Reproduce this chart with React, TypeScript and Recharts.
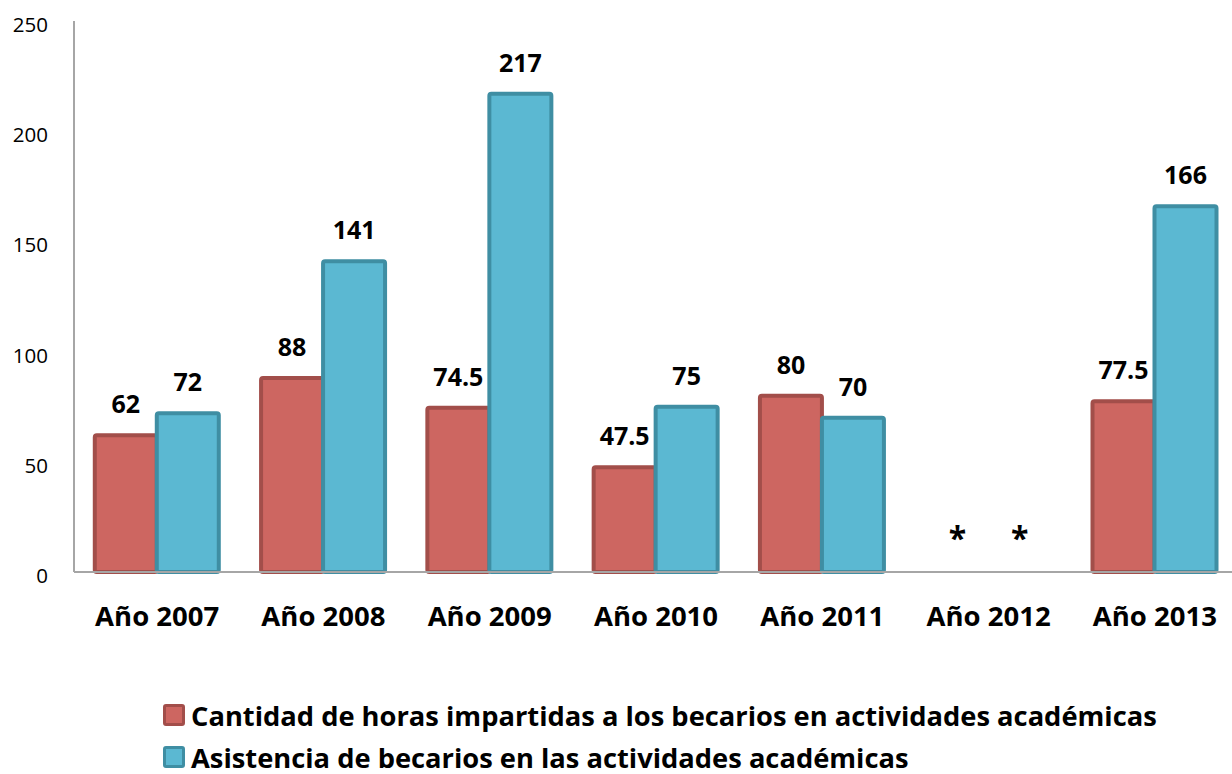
import React from 'react';
import { BarChart, Bar, XAxis, YAxis, LabelList, Legend } from 'recharts';

const categories = ['Año 2007', 'Año 2008', 'Año 2009', 'Año 2010', 'Año 2011', 'Año 2012', 'Año 2013'];
const horas = [62, 88, 74.5, 47.5, 80, 0, 77.5];
const asistencia = [72, 141, 217, 75, 70, 0, 166];
const horasLabels = ['62', '88', '74.5', '47.5', '80', '*', '77.5'];
const asistenciaLabels = ['72', '141', '217', '75', '70', '*', '166'];
const yTicks = [0, 50, 100, 150, 200, 250];
const seriesNames = [
  'Cantidad de horas impartidas a los becarios en actividades académicas',
  'Asistencia de becarios en las actividades académicas',
];

const data = categories.map((c, i) => ({
  name: c,
  horas: horas[i],
  asistencia: asistencia[i],
  horasLabel: horasLabels[i],
  asistenciaLabel: asistenciaLabels[i],
}));

const FONT = '"Open Sans", sans-serif';

const RED_FILL = '#CD6661';
const RED_STROKE = '#A24E4A';
const BLUE_FILL = '#5BB8D2';
const BLUE_STROKE = '#3F8EA3';

const CHART_W = 1238;
const Y_W = 74;
const BAND = (CHART_W - Y_W) / categories.length;
const BAR_W = (BAND * 0.75) / 2;

const LABEL_SIZE = 25;

const BarLabel = (props: any) => {
  const { x, y, width, value } = props;
  return (
    <text
      x={x + width / 2}
      y={y - 22}
      textAnchor="middle"
      fontFamily={FONT}
      fontWeight={700}
      fontSize={LABEL_SIZE}
      fill="#000"
    >
      {value}
    </text>
  );
};

const XTick = (props: any) => {
  const { x, y, payload, index } = props;
  const d = data[index];
  const stars: React.ReactNode[] = [];
  if (d && d.horas === 0) {
    stars.push(
      <text key="h" x={x - BAR_W / 2} y={y - 30} textAnchor="middle" fontFamily={FONT} fontWeight={700} fontSize={32} fill="#000">
        {d.horasLabel}
      </text>
    );
  }
  if (d && d.asistencia === 0) {
    stars.push(
      <text key="a" x={x + BAR_W / 2} y={y - 30} textAnchor="middle" fontFamily={FONT} fontWeight={700} fontSize={32} fill="#000">
        {d.asistenciaLabel}
      </text>
    );
  }
  return (
    <g>
      {stars}
      <text x={x} y={y + 46} textAnchor="middle" fontFamily={FONT} fontWeight={700} fontSize={27.5} fill="#000">
        {payload.value}
      </text>
    </g>
  );
};

const YTick = (props: any) => {
  const { y, payload } = props;
  return (
    <text x={48} y={y + 11} textAnchor="end" fontFamily={FONT} fontSize={20.5} fill="#000">
      {payload.value}
    </text>
  );
};

const LegendContent = () => {
  const items = [
    { name: seriesNames[0], fill: RED_FILL, stroke: RED_STROKE },
    { name: seriesNames[1], fill: BLUE_FILL, stroke: BLUE_STROKE },
  ];
  return (
    <div style={{ paddingLeft: 163, paddingTop: 4 }}>
      {items.map((it) => (
        <div key={it.name} style={{ display: 'flex', alignItems: 'center', height: 42 }}>
          <span
            style={{
              display: 'inline-block',
              width: 16,
              height: 16,
              background: it.fill,
              border: `3px solid ${it.stroke}`,
              borderRadius: 3,
              marginRight: 6,
            }}
          />
          <span style={{ fontFamily: FONT, fontWeight: 700, fontSize: 27.3, color: '#000', whiteSpace: 'nowrap' }}>
            {it.name}
          </span>
        </div>
      ))}
    </div>
  );
};

export default function App() {
  return (
    <div style={{ position: 'absolute', left: 0, top: 0, width: 1232, height: 774, background: '#fff', overflow: 'hidden' }}>
      <BarChart
        width={CHART_W}
        height={774}
        data={data}
        margin={{ top: 21, right: 0, bottom: 0, left: 0 }}
        barCategoryGap="12.5%"
        barGap={0}
      >
        <XAxis
          dataKey="name"
          axisLine={{ stroke: '#A6A6A6', strokeWidth: 2 }}
          tickLine={false}
          tick={<XTick />}
          height={118}
          interval={0}
        />
        <YAxis
          domain={[0, 250]}
          ticks={yTicks}
          axisLine={{ stroke: '#A6A6A6', strokeWidth: 2 }}
          tickLine={false}
          tick={<YTick />}
          width={Y_W}
          interval={0}
        />
        <Legend
          verticalAlign="bottom"
          align="left"
          height={84}
          content={<LegendContent />}
          wrapperStyle={{ left: 0, bottom: 0 }}
        />
        <Bar dataKey="horas" fill={RED_FILL} stroke={RED_STROKE} strokeWidth={4} radius={2} isAnimationActive={false}>
          <LabelList dataKey="horasLabel" content={<BarLabel />} />
        </Bar>
        <Bar dataKey="asistencia" fill={BLUE_FILL} stroke={BLUE_STROKE} strokeWidth={4} radius={2} isAnimationActive={false}>
          <LabelList dataKey="asistenciaLabel" content={<BarLabel />} />
        </Bar>
      </BarChart>
    </div>
  );
}
